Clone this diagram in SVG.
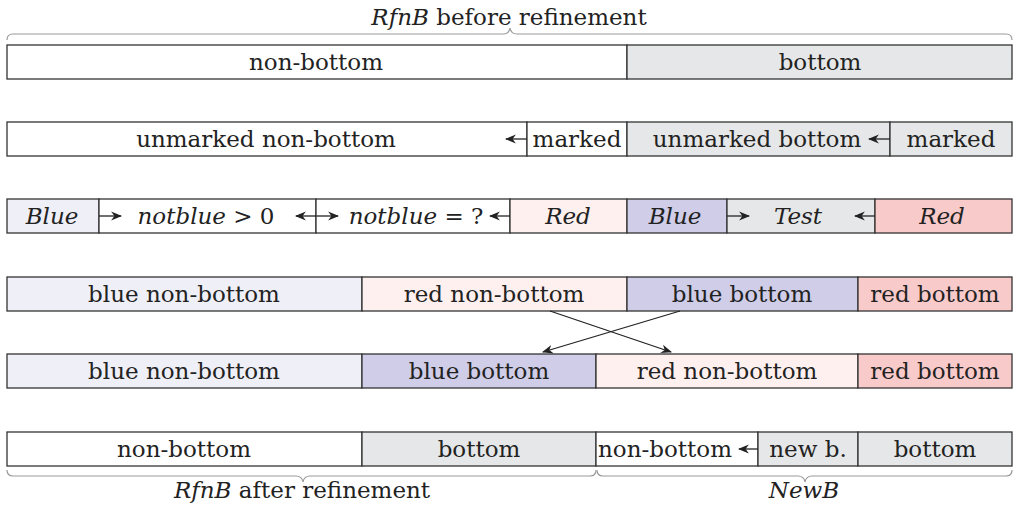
<svg xmlns="http://www.w3.org/2000/svg" width="1018" height="509" viewBox="0 0 1018 509">
<style>
text{font-family:"DejaVu Serif","Liberation Serif",serif;font-size:23px;fill:#222;text-anchor:middle}
.i{font-style:italic}
.b{stroke:#333;stroke-width:1.3}
.w{fill:#fff}.g{fill:#e6e7e8}.lb{fill:#efeff7}.db{fill:#cfcde7}.lr{fill:#fff0f0}.dr{fill:#f9caca}
.a{stroke:#222;stroke-width:1.3;fill:none}
.br{stroke:#999;stroke-width:1.2;fill:none}
</style>
<defs>
<marker id="h" viewBox="0 0 10 10" refX="9" refY="5" markerWidth="11" markerHeight="11" markerUnits="userSpaceOnUse" orient="auto">
<path d="M0,1 L10,5 L0,9 L3,5 Z" fill="#222"/>
</marker>
</defs>
<text x="509" y="25"><tspan class="i">RfnB</tspan> before refinement</text>
<path class="br" d="M7,40 Q7,34 13,34 L503,34 Q509,34 510,28 Q511,34 517,34 L1006,34 Q1012,34 1012,40"/>
<g id="row1">
<rect class="b w" x="7" y="45" width="620" height="34"/>
<rect class="b g" x="627" y="45" width="385" height="34"/>
<text x="316" y="70">non-bottom</text>
<text x="820" y="70">bottom</text>
</g>
<g id="row2">
<rect class="b w" x="7" y="122" width="520" height="34"/>
<rect class="b w" x="527" y="122" width="100" height="34"/>
<rect class="b g" x="627" y="122" width="263" height="34"/>
<rect class="b g" x="890" y="122" width="122" height="34"/>
<text x="266" y="147">unmarked non-bottom</text>
<text x="577" y="147">marked</text>
<text x="757" y="147">unmarked bottom</text>
<text x="951" y="147">marked</text>
</g>
<g id="row3">
<rect class="b lb" x="7" y="199" width="92" height="34"/>
<rect class="b w" x="99" y="199" width="217" height="34"/>
<rect class="b w" x="316" y="199" width="194" height="34"/>
<rect class="b lr" x="510" y="199" width="117" height="34"/>
<rect class="b db" x="627" y="199" width="100" height="34"/>
<rect class="b g" x="727" y="199" width="148" height="34"/>
<rect class="b dr" x="875" y="199" width="137" height="34"/>
<text x="52" y="224" class="i">Blue</text>
<text x="206" y="224"><tspan class="i">notblue</tspan> &gt; 0</text>
<text x="416" y="224"><tspan class="i">notblue</tspan> = ?</text>
<text x="568" y="224" class="i">Red</text>
<text x="675" y="224" class="i">Blue</text>
<text x="798" y="224" class="i">Test</text>
<text x="942" y="224" class="i">Red</text>
</g>
<g id="row4">
<rect class="b lb" x="7" y="277" width="355" height="34"/>
<rect class="b lr" x="362" y="277" width="265" height="34"/>
<rect class="b db" x="627" y="277" width="231" height="34"/>
<rect class="b dr" x="858" y="277" width="154" height="34"/>
<text x="184" y="302">blue non-bottom</text>
<text x="494" y="302">red non-bottom</text>
<text x="742" y="302">blue bottom</text>
<text x="935" y="302">red bottom</text>
</g>
<g id="row5">
<rect class="b lb" x="7" y="354" width="355" height="34"/>
<rect class="b db" x="362" y="354" width="234" height="34"/>
<rect class="b lr" x="596" y="354" width="262" height="34"/>
<rect class="b dr" x="858" y="354" width="154" height="34"/>
<text x="184" y="379">blue non-bottom</text>
<text x="479" y="379">blue bottom</text>
<text x="727" y="379">red non-bottom</text>
<text x="935" y="379">red bottom</text>
</g>
<g id="row6">
<rect class="b w" x="7" y="432" width="355" height="34"/>
<rect class="b g" x="362" y="432" width="234" height="34"/>
<rect class="b w" x="596" y="432" width="162" height="34"/>
<rect class="b g" x="758" y="432" width="100" height="34"/>
<rect class="b g" x="858" y="432" width="154" height="34"/>
<text x="184" y="457">non-bottom</text>
<text x="479" y="457">bottom</text>
<text x="665" y="457">non-bottom</text>
<text x="808" y="457">new b.</text>
<text x="935" y="457">bottom</text>
</g>
<g id="connectors">
<line class="a" x1="527" y1="139" x2="506" y2="139" marker-end="url(#h)"/>
<line class="a" x1="890" y1="139" x2="869" y2="139" marker-end="url(#h)"/>
<line class="a" x1="99" y1="216" x2="121" y2="216" marker-end="url(#h)"/>
<line class="a" x1="316" y1="216" x2="296" y2="216" marker-end="url(#h)"/>
<line class="a" x1="316" y1="216" x2="338" y2="216" marker-end="url(#h)"/>
<line class="a" x1="510" y1="216" x2="490" y2="216" marker-end="url(#h)"/>
<line class="a" x1="727" y1="216" x2="749" y2="216" marker-end="url(#h)"/>
<line class="a" x1="875" y1="216" x2="855" y2="216" marker-end="url(#h)"/>
<line class="a" x1="758" y1="449" x2="739" y2="449" marker-end="url(#h)"/>
<line class="a" x1="550" y1="311" x2="671" y2="352" marker-end="url(#h)"/>
<line class="a" x1="680" y1="311" x2="543" y2="352" marker-end="url(#h)"/>
</g>
<path class="br" d="M7,470 Q7,476 13,476 L296,476 Q302,476 303,482 Q304,476 310,476 L590,476 Q596,476 596,470"/>
<path class="br" d="M597,470 Q597,476 603,476 L798,476 Q804,476 805,482 Q806,476 812,476 L1006,476 Q1012,476 1012,470"/>
<text x="302" y="498"><tspan class="i">RfnB</tspan> after refinement</text>
<text x="804" y="498" class="i">NewB</text>
</svg>
